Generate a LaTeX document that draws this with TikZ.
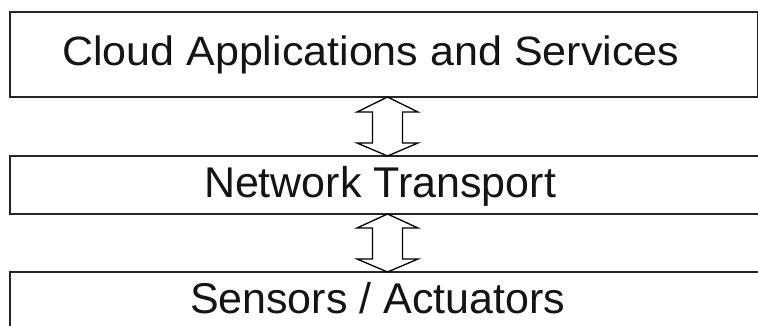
\documentclass[tikz,border=0pt]{standalone}
\usepackage{fontspec}
\setmainfont{Liberation Sans}
\usetikzlibrary{calc}
\begin{document}
\begin{tikzpicture}[x=1pt,y=-1pt,
  layerbox/.style={draw=black!85,line width=2pt,rectangle,inner sep=0pt,outer sep=0pt},
  layertext/.style={inner sep=0pt,outer sep=0pt,anchor=base west,text=black!92},
  dblarrow/.style={draw=black,line width=1.3pt,line join=miter}]
\clip (0,0) rectangle (758,326);
\fill[white] (0,0) rectangle (758,326);
\node[layerbox,minimum width=747.5pt,minimum height=85pt] (cloud) at (383.75,54.5) {};
\node[layerbox,minimum width=770pt,minimum height=58pt] (net) at (395,185) {};
\node[layerbox,minimum width=770pt,minimum height=73pt] (sens) at (395,308.5) {};
\node[layertext] (cloudtext) at (62,66) {\scalebox{1.05}[1]{\fontsize{41}{48}\selectfont Cloud Applications and Services}};
\node[layertext] (nettext) at (204,197) {\fontsize{43}{50}\selectfont Network Transport};
\node[layertext] (senstext) at (190,313) {\fontsize{43}{50}\selectfont Sensors / Actuators};
\coordinate (ax) at (387.5,0);
\draw[dblarrow] let \p1=(cloud.south -| ax), \p2=(net.north -| ax) in
  (\x1,\y1) -- (\x1+30.5pt,\y1-15pt) -- (\x1+15pt,\y1-15pt) -- (\x1+15pt,\y2+13pt)
  -- (\x1+30.5pt,\y2+13pt) -- (\x1,\y2) -- (\x1-30.5pt,\y2+13pt) -- (\x1-15pt,\y2+13pt)
  -- (\x1-15pt,\y1-15pt) -- (\x1-30.5pt,\y1-15pt) -- cycle;
\draw[dblarrow] let \p1=(net.south -| ax), \p2=(sens.north -| ax) in
  (\x1,\y1) -- (\x1+30.5pt,\y1-14pt) -- (\x1+15pt,\y1-14pt) -- (\x1+15pt,\y2+13pt)
  -- (\x1+30.5pt,\y2+13pt) -- (\x1,\y2) -- (\x1-30.5pt,\y2+13pt) -- (\x1-15pt,\y2+13pt)
  -- (\x1-15pt,\y1-14pt) -- (\x1-30.5pt,\y1-14pt) -- cycle;
\end{tikzpicture}
\end{document}
